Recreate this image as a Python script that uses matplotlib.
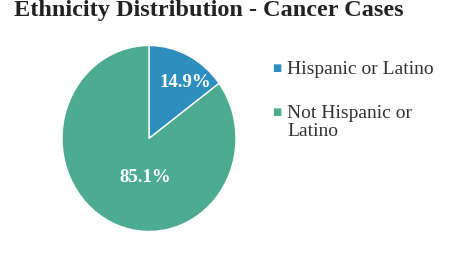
import numpy as np
import matplotlib
matplotlib.use("Agg")
import matplotlib.pyplot as plt

# data
labels = ["Hispanic or Latino", "Not Hispanic or\nLatino"]
shares = [14.9, 85.1]
colors = ["#2e8fbe", "#4dab90"]
# % label placement inside each wedge (distance, angle in degrees)
label_pos = [(0.73, 55), (0.42, 264)]

plt.rcParams["font.family"] = ["Liberation Serif", "DejaVu Serif"]

W, H = 455, 259
fig = plt.figure(figsize=(W / 100, H / 100), dpi=100)
fig.patch.set_facecolor("white")

# pie axes placed in pixel terms; the scan is slightly stretched vertically
cx, cy, rx, ry = 149, 138.5, 87, 93
ax = fig.add_axes([(cx - rx) / W, (H - cy - ry) / H, 2 * rx / W, 2 * ry / H])
wedges, texts, autotexts = ax.pie(
    shares, colors=colors, startangle=90, counterclock=False,
    autopct="%.1f%%", wedgeprops=dict(edgecolor="white", linewidth=1.0),
    textprops=dict(color="white", fontsize=13.5, fontweight="bold"))
ax.set_aspect("auto")
ax.set_xlim(-1, 1)
ax.set_ylim(-1, 1)

for t, (d, a) in zip(autotexts, label_pos):
    ang = np.deg2rad(a)
    t.set_position((d * np.cos(ang), d * np.sin(ang)))

# title sits tight against the top edge
fig.text(14 / W, 1 - 16 / H, "Ethnicity Distribution - Cancer Cases",
         fontsize=17.5, fontweight="bold", color="#222222", va="baseline")

# legend drawn by hand
ys = [68, 112]
for lab, col, y in zip(labels, colors, ys):
    fig.text(272 / W, 1 - y / H, "\u25a0", family="DejaVu Sans", fontsize=7,
             color=col, va="center", ha="left")
    fig.text(287 / W, 1 - (y - 7) / H, lab, fontsize=14, color="#333333",
             va="top", ha="left", linespacing=1.05)

fig.savefig("out.png", dpi=100)
